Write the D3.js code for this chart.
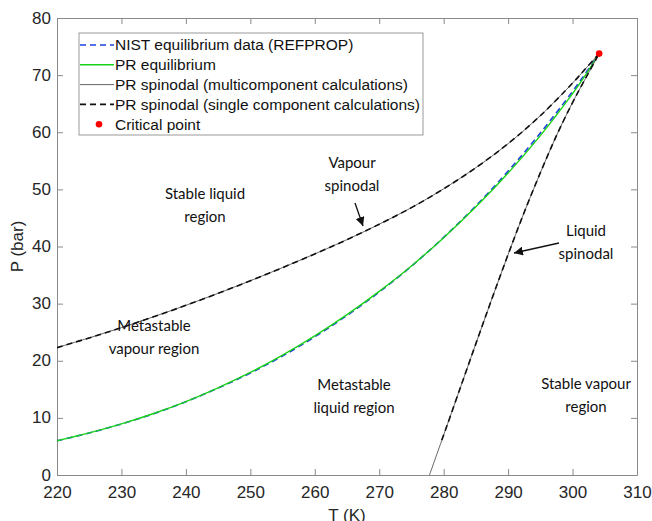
<!DOCTYPE html>
<html><head><meta charset="utf-8">
<script src="https://cdn.jsdelivr.net/npm/d3@7"></script>
<style>body{margin:0;background:#fff}svg{display:block}</style>
</head><body>
<svg id="c" width="652" height="521"></svg>
<script>
// ---- data ----
const xTicks = [220,230,240,250,260,270,280,290,300,310];
const yTicks = [0,10,20,30,40,50,60,70,80];
const eqT   = [220,225,230,235,240,245,250,255,260,265,270,275,280,285,290,295,300,302,304.13];
const nistP = [5.99,7.36,8.93,10.73,12.83,15.22,17.85,20.84,24.19,27.94,32.03,36.55,41.6,47.1,53.2,59.85,67.15,70.3,73.77];
const prEqP = [5.99,7.37,8.95,10.76,12.86,15.27,17.95,20.98,24.35,28.08,32.15,36.6,41.55,46.95,52.85,59.4,66.75,70.0,73.77];
const vapT  = [220,225,230,235,240,245,250,255,260,265,270,275,280,285,290,295,300,302,304.13];
const vapP  = [22.3,24.0,25.8,27.7,29.7,31.8,34.0,36.3,38.7,41.2,43.9,46.8,50.1,53.8,58.0,62.9,68.6,71.1,73.77];
const liqT_multi  = [277.8,280,282.5,285,287.5,290,292.5,295,297.5,300,302,304.13];
const liqP_multi  = [0,7.0,15.0,23.0,30.9,38.6,46.0,52.9,59.4,65.2,69.4,73.77];
const liqT_single = [279.7,280,282.5,285,287.5,290,292.5,295,297.5,300,302,304.13];
const liqP_single = [6.1,7.0,15.0,23.0,30.9,38.6,46.0,52.9,59.4,65.2,69.4,73.77];
const critT = 304.13, critP = 73.77;
const legendLabels = ["NIST equilibrium data (REFPROP)","PR equilibrium","PR spinodal (multicomponent calculations)","PR spinodal (single component calculations)","Critical point"];

// ---- layout ----
const L=57,R=637,T=18,B=475;
const svg=d3.select("#c");
const x=d3.scaleLinear().domain([220,310]).range([L,R]);
const y=d3.scaleLinear().domain([0,80]).range([B,T]);
const axCol="#8a8a8a", txtCol="#262626";
const axFont="'Liberation Sans', Arial, sans-serif";

svg.append("defs").append("clipPath").attr("id","clip").append("rect")
  .attr("x",L).attr("y",T).attr("width",R-L).attr("height",B-T);

// axes
const xb=svg.append("g").attr("transform",`translate(0,${B})`)
  .call(d3.axisBottom(x).tickValues(xTicks).tickSizeInner(-6).tickSizeOuter(0).tickPadding(11));
const yl=svg.append("g").attr("transform",`translate(${L},0)`)
  .call(d3.axisLeft(y).tickValues(yTicks).tickSizeInner(-6).tickSizeOuter(0).tickPadding(6));
const xt=svg.append("g").attr("transform",`translate(0,${T})`)
  .call(d3.axisTop(x).tickValues(xTicks).tickSizeInner(-6).tickSizeOuter(0).tickFormat(""));
const yr=svg.append("g").attr("transform",`translate(${R},0)`)
  .call(d3.axisRight(y).tickValues(yTicks).tickSizeInner(-6).tickSizeOuter(0).tickFormat(""));
[xb,yl,xt,yr].forEach(g=>{
  g.selectAll("path,line").attr("stroke",axCol).attr("stroke-width",1);
  g.selectAll("text").attr("fill",txtCol).style("font-family",axFont).style("font-size","17px");
});
xb.selectAll("text").attr("dy","0.71em");
yl.selectAll("text").attr("dy","0.3em");

// axis labels
svg.append("text").attr("x",(L+R)/2).attr("y",521).attr("text-anchor","middle")
  .style("font-family",axFont).style("font-size","17px").attr("fill",txtCol).text("T (K)");
svg.append("text").attr("transform",`translate(23,${(T+B)/2}) rotate(-90)`).attr("text-anchor","middle")
  .style("font-family",axFont).style("font-size","17px").attr("fill",txtCol).text("P (bar)");

// lines
const g=svg.append("g").attr("clip-path","url(#clip)");
const line=d3.line().x(d=>x(d[0])).y(d=>y(d[1])).curve(d3.curveCatmullRom.alpha(0.5));
const zip=(a,b)=>a.map((v,i)=>[v,b[i]]);
const styles={
  nist:{stroke:"#1f3fe0",w:1.6,dash:"6,4"},
  pr:{stroke:"#19d219",w:1.4,dash:null},
  multi:{stroke:"#555",w:0.9,dash:null},
  single:{stroke:"#111",w:1.6,dash:"6,4"}
};
function draw(data,s){
  g.append("path").datum(data).attr("d",line).attr("fill","none")
   .attr("stroke",s.stroke).attr("stroke-width",s.w).attr("stroke-dasharray",s.dash);
}
draw(zip(eqT,nistP),styles.nist);
draw(zip(eqT,prEqP),styles.pr);
draw(zip(vapT,vapP),styles.multi);
draw(zip(liqT_multi,liqP_multi),styles.multi);
draw(zip(vapT,vapP),styles.single);
draw(zip(liqT_single,liqP_single),styles.single);
svg.append("circle").attr("cx",x(critT)).attr("cy",y(critP)).attr("r",3.3).attr("fill","#f00");

// annotations
const anFont="Lato, 'Open Sans', sans-serif";
function label(lines,cx,by){
  const t=svg.append("text").attr("text-anchor","middle").style("font-family",anFont)
    .style("font-size","15px").attr("fill","#111");
  lines.forEach((s,i)=>t.append("tspan").attr("x",cx).attr("y",by+i*23).text(s));
}
label(["Stable liquid","region"],205,199);
label(["Vapour","spinodal"],352,168);
label(["Liquid","spinodal"],586,236);
label(["Metastable","vapour region"],154,331);
label(["Metastable","liquid region"],354,390);
label(["Stable vapour","region"],586,389);

svg.append("defs").append("marker").attr("id","ah").attr("viewBox","0 0 10 10")
  .attr("refX",10).attr("refY",5).attr("markerWidth",9).attr("markerHeight",9)
  .attr("markerUnits","userSpaceOnUse").attr("orient","auto")
  .append("path").attr("d","M0,0L10,5L0,10z").attr("fill","#111");
function arrow(x1,y1,x2,y2){
  svg.append("line").attr("x1",x1).attr("y1",y1).attr("x2",x2).attr("y2",y2)
    .attr("stroke","#111").attr("stroke-width",1.3).attr("marker-end","url(#ah)");
}
arrow(355,203,363,226);
arrow(559,243,514,253);

// legend
const lg=svg.append("g");
lg.append("rect").attr("x",79).attr("y",33).attr("width",344).attr("height",102)
  .attr("fill","#fff").attr("stroke","#999").attr("stroke-width",1);
const legStyles=[styles.nist,styles.pr,styles.multi,styles.single];
legendLabels.forEach((s,i)=>{
  const cy=45+i*19.8;
  if(i<4){
    const st=legStyles[i];
    lg.append("line").attr("x1",80).attr("x2",114).attr("y1",cy).attr("y2",cy)
      .attr("stroke",st.stroke).attr("stroke-width",st.w).attr("stroke-dasharray",st.dash);
  } else {
    lg.append("circle").attr("cx",99).attr("cy",cy).attr("r",3.3).attr("fill","#f00");
  }
  lg.append("text").attr("x",115).attr("y",cy).attr("dy","0.35em")
    .style("font-family",axFont).style("font-size","15.5px").attr("fill","#111").text(s);
});
</script>
</body></html>
